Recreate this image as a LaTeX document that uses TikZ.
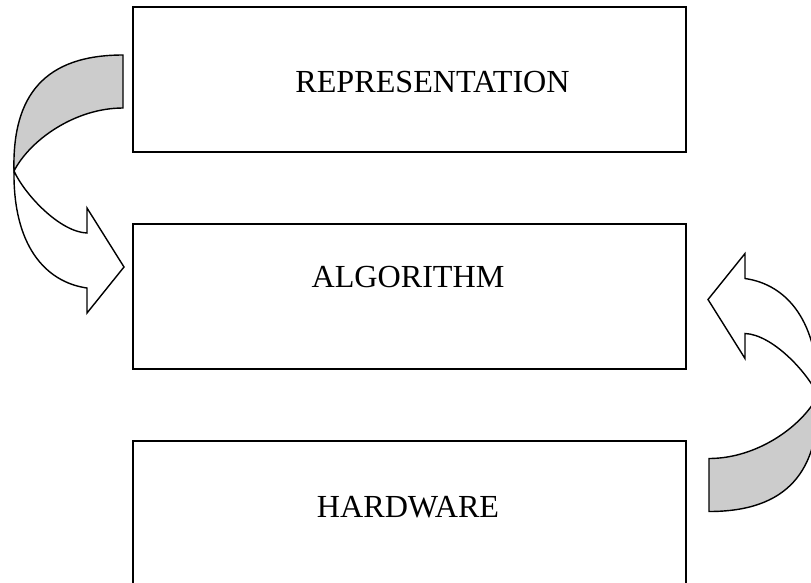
\documentclass[tikz,border=0pt]{standalone}
\usepackage{fontspec}
\setmainfont{Liberation Serif}
\usetikzlibrary{positioning}

\begin{document}
\begin{tikzpicture}[x=0.02cm, y=-0.02cm,
    box/.style={draw, line width=0.8pt, minimum width=11.06cm, minimum height=2.9cm, inner sep=0pt, outer sep=0pt},
    lbl/.style={anchor=base, font=\fontsize{18.3}{22}\selectfont},
    blockarrow/.style={draw, line width=0.8pt}]
  \useasboundingbox (0,0) rectangle (811,582);

  % the three layers
  \node[box] (rep) at (409.5,79.5) {};
  \node[box, below=1.44cm of rep] (alg) {};
  \node[box, below=1.44cm of alg] (hw) {};

  % labels
  \node[lbl] (reptxt) at (432.5,92) {REPRESENTATION};
  \node[lbl] (algtxt) at (408,287) {ALGORITHM};
  \node[lbl] (hwtxt) at (408,517) {HARDWARE};

  % curved arrow, representation down to algorithm
  \filldraw[blockarrow, fill=black!20] (123,55) .. controls (45,55) and (12,95) .. (14,171)
    .. controls (30,140) and (75,108) .. (123,108) -- cycle;
  \filldraw[blockarrow, fill=white] (14,171) .. controls (13,245) and (45,282) .. (87,288)
    -- (87,313) -- (124,267) -- (87,208) -- (87,233)
    .. controls (60,232) and (25,195) .. (14,171) -- cycle;

  % curved arrow, hardware up to algorithm
  \begin{scope}[shift={(832,566.5)}, xscale=-1, yscale=-1]
    \filldraw[blockarrow, fill=black!20] (123,55) .. controls (45,55) and (12,95) .. (14,171)
      .. controls (30,140) and (75,108) .. (123,108) -- cycle;
    \filldraw[blockarrow, fill=white] (14,171) .. controls (13,245) and (45,282) .. (87,288)
      -- (87,313) -- (124,267) -- (87,208) -- (87,233)
      .. controls (60,232) and (25,195) .. (14,171) -- cycle;
  \end{scope}
\end{tikzpicture}
\end{document}
